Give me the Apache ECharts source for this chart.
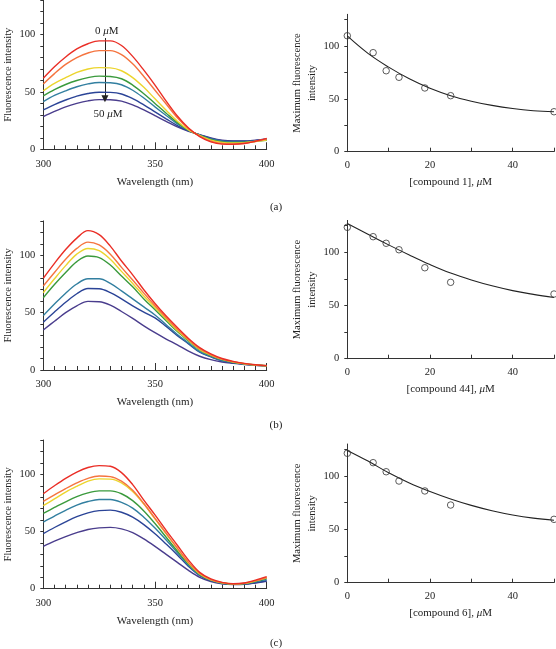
<!DOCTYPE html>
<html>
<head>
<meta charset="utf-8">
<script src="https://cdn.jsdelivr.net/npm/echarts@6/dist/echarts.min.js"></script>
<style>
html,body{margin:0;padding:0;background:#fff;}
#chart{width:556px;height:649px;}
</style>
</head>
<body>
<div id="chart"></div>
<script>
// ---------- data ----------
const wavelengths = [300,305,310,315,320,325,330,335,340,345,350,355,360,365,370,375,380,385,390,395,400];

// panel (a) spectra, 0 -> 50 uM
const aRed    = [62, 72, 80.5, 87.5, 92, 94.5, 94.5, 90.5, 81, 69, 56, 42, 29, 18.5, 11, 6.5, 4.5, 4.3, 5, 7, 9.5];
const aOrange = [57, 66, 74, 80, 84, 86, 86, 82.5, 74.5, 63.5, 51.5, 39.5, 27.5, 18, 11.5, 7, 5, 4.8, 5.3, 7, 9];
const aYellow = [51, 57.5, 62.5, 67, 70, 71.2, 71, 68.5, 62.5, 54, 44, 34, 24.5, 17, 12, 8, 6, 5.5, 5.8, 6.8, 8];
const aGreen  = [46.5, 52, 56.5, 60, 62.5, 63.8, 63.5, 61.5, 56, 48.5, 40, 31.5, 23.3, 16.8, 12.2, 8.5, 6.5, 6, 6.2, 7, 7.8];
const aTeal   = [41.5, 47, 51, 54.5, 57, 58.3, 58, 56.3, 51.5, 44.7, 37, 29.5, 22.2, 16.5, 12.4, 9, 7, 6.5, 6.5, 7.3, 8.3];
const aBlue   = [34.3, 39, 43, 46.4, 48.6, 49.8, 49.6, 48.2, 44.2, 38.8, 32.7, 26.6, 20.7, 16, 12.6, 9.5, 7.5, 7, 7, 7.8, 8.7];
const aPurple = [28.5, 33, 37, 40, 42.2, 43.3, 43.2, 42, 38.8, 34.4, 29.3, 24.3, 19.5, 15.7, 12.8, 10, 8, 7.3, 7.3, 8, 9];

// panel (b) spectra
const bRed    = [80, 93, 105, 115, 121.5, 118, 108, 95, 83, 70, 58, 47, 37, 27.5, 19.5, 14, 10, 7.5, 5.8, 4.6, 3.8];
const bOrange = [73.3, 85, 96.5, 106, 111.5, 109, 101, 89.5, 78.5, 67, 56, 45.5, 35.5, 26.5, 18.5, 13.3, 9.5, 7.2, 5.6, 4.5, 3.8];
const bYellow = [67.4, 79.5, 91, 101, 106, 104, 96.5, 86, 75.5, 64.5, 54.5, 44.5, 34.5, 26, 18, 13, 9.2, 7, 5.5, 4.4, 3.7];
const bGreen  = [63, 74.5, 85, 94.5, 99.4, 98, 91.5, 82, 72.5, 62, 52.5, 43, 33.5, 25.3, 17.5, 12.6, 9, 6.8, 5.4, 4.3, 3.7];
const bTeal   = [47.4, 57.5, 67, 75, 79.5, 79.5, 75.5, 69, 62, 55, 48, 39.5, 31, 23.5, 16, 11.8, 8.3, 6.5, 5.2, 4.2, 3.6];
const bBlue   = [41.6, 50.5, 59, 66.5, 71, 70.8, 67.5, 62, 56, 50.5, 45.5, 38, 30, 22.8, 15.5, 11.4, 8, 6.3, 5.1, 4.1, 3.6];
const bPurple = [34.9, 42.5, 50, 56, 59.8, 59.5, 56.5, 51, 45, 38.5, 32.5, 27, 22, 16.5, 12, 9, 7, 5.8, 4.8, 4, 3.5];

// panel (c) spectra
const cRed    = [83, 90, 96.5, 102, 106, 107.6, 107, 101.5, 91, 77.5, 64.5, 51, 38, 25, 14.3, 8.5, 5.5, 4.3, 5, 7.5, 10.5];
const cOrange = [76.4, 82, 87.5, 92.5, 96.5, 98.5, 98, 94, 86, 74.5, 61.5, 48.5, 35.5, 23, 13.5, 8, 5.3, 4.2, 4.8, 7, 9.8];
const cYellow = [72.6, 78.5, 84.5, 89.5, 94, 96, 95.8, 92.5, 85, 74, 61, 48, 35, 22.5, 13, 7.8, 5.2, 4.2, 4.7, 6.8, 9.4];
const cGreen  = [65.9, 71, 76, 80.5, 83.8, 85.5, 85.5, 83, 77, 68, 57, 45, 33, 21.5, 12.5, 7.5, 5, 4, 4.5, 6.5, 9];
const cTeal   = [58.3, 63.5, 68.5, 73, 76.2, 78, 78, 75.5, 70.5, 62.5, 53, 42.5, 31.5, 20.5, 12, 7.2, 4.8, 3.9, 4.3, 6, 8];
const cBlue   = [48.1, 53.5, 58.5, 63, 66.3, 68.3, 68.7, 66.8, 62.5, 56, 48, 39, 29.5, 19.5, 11.5, 7, 4.6, 3.8, 4, 5.3, 7];
const cPurple = [37, 41.5, 45.5, 49, 51.8, 53.2, 53.6, 52.3, 49, 43.5, 37, 30, 23, 16, 10, 6.3, 4.3, 3.6, 3.8, 5, 6.5];

// binding data
const concentrations = [0, 6.25, 9.4, 12.5, 18.75, 25, 50];
const pointsA = [109.7, 93.7, 76.6, 70.4, 60.3, 53, 37.8];
const pointsB = [123.5, 114.7, 108.5, 102.4, 85.5, 71.8, 60.8];
const pointsC = [121.3, 112.5, 104, 95.3, 86, 72.8, 59.4];
const fitX = [0, 5, 10, 15, 20, 25, 30, 35, 40, 45, 50];
const fitA = [109.5, 93, 80, 69, 60, 53, 47.8, 43.8, 40.8, 38.8, 37.8];
const fitB = [127, 117, 107, 97.5, 88.5, 80.5, 74, 68.5, 64, 60.5, 57.5];
const fitC = [124, 114, 103, 93.5, 85.5, 78.5, 72.5, 67.5, 63.5, 60.5, 58.5];

// axis ticks / labels
const specTicksX = [300,305,310,315,320,325,330,335,340,345,350,355,360,365,370,375,380,385,390,395,400];
const specMajorX = [300, 350, 400];
const specTicksY = [0,10,20,30,40,50,60,70,80,90,100,110,120,130];
const specLabelsY = [0, 50, 100];
const bindTicksX = [0,10,20,30,40,50];
const bindLabelsX = [0, 20, 40];
const bindTicksY = [0,25,50,75,100,125];
const bindLabelsY = [0, 50, 100];

const compoundNames = ['1', '44', '6'];
const panelLetters = ['(a)', '(b)', '(c)'];
const curveColors = ['#ea2e26', '#f5743f', '#ecd52e', '#3a9a3c', '#327fa0', '#2b4497', '#4a3d8d'];

// ---------- build ----------
const FONT = 'Liberation Serif';
const AX = '#333';
const TXT = '#222';

const leftGrids = [
  {left: 43.3, top: 0.2, width: 223.4, height: 149.1},
  {left: 43.3, top: 220.9, width: 223.4, height: 149.1},
  {left: 43.3, top: 440, width: 223.4, height: 148.7}
];
const rightGrids = [
  {left: 347.3, top: 14.3, width: 206.7, height: 137.4},
  {left: 347.3, top: 220.4, width: 206.7, height: 138.3},
  {left: 347.3, top: 444, width: 206.7, height: 138.7}
];
const labelPos = [[276, 207], [276, 425], [276, 643]];

const spectra = [
  [aRed, aOrange, aYellow, aGreen, aTeal, aBlue, aPurple],
  [bRed, bOrange, bYellow, bGreen, bTeal, bBlue, bPurple],
  [cRed, cOrange, cYellow, cGreen, cTeal, cBlue, cPurple]
];
const pointSets = [pointsA, pointsB, pointsC];
const fitSets = [fitA, fitB, fitC];

const grid = [], xAxis = [], yAxis = [], series = [], graphic = [];
const rich = {i: {fontStyle: 'italic', fontFamily: FONT, fontSize: 11, color: TXT}};

for (let p = 0; p < 3; p++) {
  const gL = grid.length; grid.push(leftGrids[p]);
  const gR = grid.length; grid.push(rightGrids[p]);

  // left spectrum axes
  const xL = xAxis.length;
  xAxis.push({
    gridIndex: gL, type: 'value', min: 300, max: 400, position: 'bottom',
    name: 'Wavelength (nm)', nameLocation: 'middle', nameGap: 27,
    nameTextStyle: {fontFamily: FONT, fontSize: 11, color: TXT},
    axisLine: {show: true, lineStyle: {color: AX, width: 1}},
    axisTick: {show: true, inside: true, length: 4, customValues: specTicksX, lineStyle: {color: AX}},
    axisLabel: {customValues: specMajorX, margin: 9, fontFamily: FONT, fontSize: 10.5, color: TXT},
    splitLine: {show: false}
  });
  xAxis.push({
    gridIndex: gL, type: 'value', min: 300, max: 400, position: 'bottom',
    axisLine: {show: false},
    axisTick: {show: true, inside: true, length: 7, customValues: specMajorX, lineStyle: {color: AX}},
    axisLabel: {show: false}, splitLine: {show: false}
  });
  const yL = yAxis.length;
  yAxis.push({
    gridIndex: gL, type: 'value', min: 0, max: 130,
    name: 'Fluorescence intensity', nameLocation: 'middle', nameGap: 30,
    nameTextStyle: {fontFamily: FONT, fontSize: 10.5, color: TXT},
    axisLine: {show: true, lineStyle: {color: AX, width: 1}},
    axisTick: {show: true, inside: false, length: 3, customValues: specTicksY, lineStyle: {color: AX}},
    axisLabel: {customValues: specLabelsY, margin: 8, fontFamily: FONT, fontSize: 10.5, color: TXT},
    splitLine: {show: false}
  });

  // right binding axes
  const xR = xAxis.length;
  xAxis.push({
    gridIndex: gR, type: 'value', min: 0, max: 50, position: 'bottom',
    name: '[compound ' + compoundNames[p] + '], {i|μ}M', nameLocation: 'middle', nameGap: 25,
    nameTextStyle: {fontFamily: FONT, fontSize: 11, color: TXT, rich: rich},
    axisLine: {show: true, lineStyle: {color: AX, width: 1}},
    axisTick: {show: true, inside: true, length: 4, customValues: bindTicksX, lineStyle: {color: AX}},
    axisLabel: {customValues: bindLabelsX, margin: 8, fontFamily: FONT, fontSize: 10.5, color: TXT},
    splitLine: {show: false}
  });
  const yR = yAxis.length;
  yAxis.push({
    gridIndex: gR, type: 'value', min: 0, max: 130,
    name: 'Maximum fluorescence\nintensity', nameLocation: 'middle', nameGap: 27,
    nameTextStyle: {fontFamily: FONT, fontSize: 10.5, color: TXT, lineHeight: 15},
    axisLine: {show: true, lineStyle: {color: AX, width: 1}},
    axisTick: {show: true, inside: false, length: 3, customValues: bindTicksY, lineStyle: {color: AX}},
    axisLabel: {customValues: bindLabelsY, margin: 8, fontFamily: FONT, fontSize: 10.5, color: TXT},
    splitLine: {show: false}
  });

  spectra[p].forEach((arr, k) => {
    const s = {
      type: 'line', xAxisIndex: xL, yAxisIndex: yL,
      data: wavelengths.map((w, i) => [w, arr[i]]),
      showSymbol: false, smooth: 0.35, silent: true,
      lineStyle: {color: curveColors[k], width: 1.4},
      z: 10 - k
    };
    if (p === 0 && k === 0) {
      s.markLine = {
        silent: true, symbol: ['none', 'triangle'], symbolSize: 7,
        lineStyle: {color: '#222', width: 1, type: 'solid'},
        itemStyle: {color: '#222'},
        label: {show: false},
        data: [[{coord: [327.6, 97]}, {coord: [327.6, 44]}]]
      };
      s.markPoint = {
        silent: true, symbol: 'circle', symbolSize: 1,
        itemStyle: {color: 'rgba(0,0,0,0)'},
        label: {show: true, position: 'inside', fontFamily: FONT, fontSize: 11, color: TXT,
          rich: rich},
        data: [
          {coord: [328.4, 103.2], label: {formatter: '0 {i|μ}M'}},
          {coord: [329, 30.8], label: {formatter: '50 {i|μ}M'}}
        ]
      };
    }
    series.push(s);
  });

  series.push({
    type: 'line', xAxisIndex: xR, yAxisIndex: yR,
    data: fitX.map((x, i) => [x, fitSets[p][i]]),
    showSymbol: false, smooth: 0.4, silent: true,
    lineStyle: {color: '#222', width: 1.1}
  });
  series.push({
    type: 'scatter', xAxisIndex: xR, yAxisIndex: yR,
    data: concentrations.map((c, i) => [c, pointSets[p][i]]),
    symbol: 'circle', symbolSize: 6.5, clip: false, silent: true,
    itemStyle: {color: 'rgba(0,0,0,0)', borderColor: '#333', borderWidth: 1},
    z: 5
  });

  graphic.push({
    type: 'text', x: labelPos[p][0], y: labelPos[p][1],
    style: {text: panelLetters[p], font: '11px "' + FONT + '"', fill: TXT,
      textAlign: 'center', textVerticalAlign: 'middle'}
  });
}

const chart = echarts.init(document.getElementById('chart'), null, {renderer: 'canvas'});
chart.setOption({
  animation: false,
  backgroundColor: '#fff',
  grid, xAxis, yAxis, series, graphic
});
</script>
</body>
</html>
